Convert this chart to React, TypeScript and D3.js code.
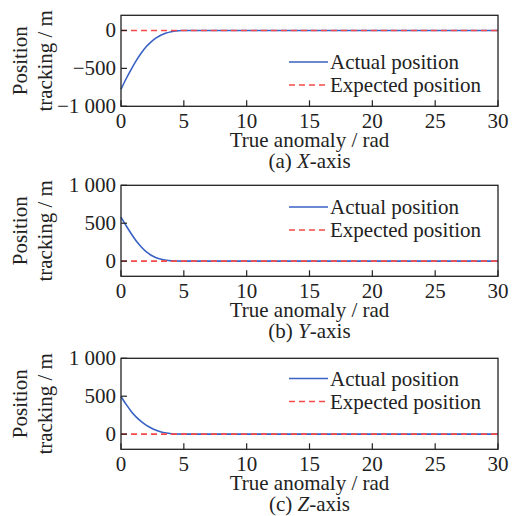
import React from "react";
import * as d3 from "d3";

// True anomaly sample points (rad) and tracked position per axis (m)
const anomalyX = [0, 0.4, 0.8, 1.2, 1.6, 2.0, 2.4, 2.8, 3.2, 3.6, 4.0, 4.4, 4.8, 5.2, 30];
const actualX = [-775, -640, -515, -400, -300, -215, -150, -98, -60, -33, -16, -6, -1, 0, 0];

const anomalyY = [0, 0.4, 0.8, 1.2, 1.6, 2.0, 2.4, 2.8, 3.2, 3.6, 4.0, 4.4, 4.8, 30];
const actualY = [580, 470, 365, 270, 190, 125, 78, 45, 24, 11, 4, 1, 0, 0];

const anomalyZ = [0, 0.4, 0.8, 1.2, 1.6, 2.0, 2.4, 2.8, 3.2, 3.6, 4.0, 4.4, 4.8, 30];
const actualZ = [495, 395, 303, 228, 168, 118, 80, 50, 27, 14, 6, 2, 0, 0];

// Expected position is the origin for the whole span
const expectedAnomaly = [0, 30];
const expectedValue = [0, 0];

const xTicks = [0, 5, 10, 15, 20, 25, 30];
const yTicksX = [-1000, -500, 0];
const yTicksYZ = [0, 500, 1000];

const legendLabels = ["Actual position", "Expected position"];
const xTitle = "True anomaly / rad";
const yTitle = ["Position", "tracking / m"];

const BLUE = "#3a62c4";
const RED = "#f44a4a";
const FONT = "'Liberation Serif', 'Times New Roman', serif";
const FS = 21;

const fmt = (v: number) => {
  const a = Math.abs(v);
  const s = a >= 1000 ? `${Math.floor(a / 1000)} ${String(a % 1000).padStart(3, "0")}` : String(a);
  return v < 0 ? "\u2212" + s : s;
};

type PanelProps = {
  top: number;
  t: number[];
  v: number[];
  domain: [number, number];
  yTicks: number[];
  legendTop: number;
  letter: string;
  axisName: string;
};

const LEFT = 121;
const RIGHT = 498;
const H = 91;

function Panel({ top, t, v, domain, yTicks, legendTop, letter, axisName }: PanelProps) {
  const x = d3.scaleLinear().domain([0, 30]).range([LEFT, RIGHT]);
  const y = d3.scaleLinear().domain(domain).range([top + H, top]);
  const line = d3
    .line<[number, number]>()
    .x((d) => x(d[0]))
    .y((d) => y(d[1]))
    .curve(d3.curveMonotoneX);
  const actual = line(t.map((ti, i) => [ti, v[i]] as [number, number])) || "";
  const expected = line(expectedAnomaly.map((ti, i) => [ti, expectedValue[i]] as [number, number])) || "";
  const bottom = top + H;
  const cx = (LEFT + RIGHT) / 2;
  const cy = top + H / 2;
  return (
    <g>
      <path d={actual} fill="none" stroke={BLUE} strokeWidth={1.6} />
      <path d={expected} fill="none" stroke={RED} strokeWidth={1.6} strokeDasharray="6 4" />
      <rect x={LEFT} y={top} width={RIGHT - LEFT} height={H} fill="none" stroke="#222" strokeWidth={1.3} />
      {xTicks.map((tv) => (
        <g key={"x" + tv}>
          <line x1={x(tv)} x2={x(tv)} y1={bottom} y2={bottom - 6} stroke="#222" strokeWidth={1.2} />
          <text x={x(tv)} y={bottom + 22} textAnchor="middle" fontSize={FS} fontFamily={FONT} fill="#222">
            {tv}
          </text>
        </g>
      ))}
      {yTicks.map((yv) => (
        <g key={"y" + yv}>
          <line x1={LEFT} x2={LEFT + 6} y1={y(yv)} y2={y(yv)} stroke="#222" strokeWidth={1.2} />
          <text x={LEFT - 5} y={y(yv) + 7} textAnchor="end" fontSize={FS} fontFamily={FONT} fill="#222">
            {fmt(yv)}
          </text>
        </g>
      ))}
      <text x={cx} y={bottom + 41} textAnchor="middle" fontSize={FS} fontFamily={FONT} fill="#222">
        {xTitle}
      </text>
      <text x={cx} y={bottom + 62} textAnchor="middle" fontSize={FS} fontFamily={FONT} fill="#222">
        {`(${letter}) `}
        <tspan fontStyle="italic">{axisName}</tspan>
        {"-axis"}
      </text>
      <text transform={`translate(27,${cy}) rotate(-90)`} textAnchor="middle" fontSize={FS} fontFamily={FONT} fill="#222">
        {yTitle[0]}
      </text>
      <text transform={`translate(52,${cy}) rotate(-90)`} textAnchor="middle" fontSize={FS} fontFamily={FONT} fill="#222">
        {yTitle[1]}
      </text>
      {legendLabels.map((lab, i) => {
        const ly = legendTop + i * 23;
        return (
          <g key={lab}>
            <line
              x1={289}
              x2={328}
              y1={ly}
              y2={ly}
              stroke={i === 0 ? BLUE : RED}
              strokeWidth={1.6}
              strokeDasharray={i === 0 ? undefined : "6 4"}
            />
            <text x={330} y={ly + 7} fontSize={FS} fontFamily={FONT} fill="#222">
              {lab}
            </text>
          </g>
        );
      })}
    </g>
  );
}

export default function App() {
  return (
    <svg width={512} height={516} style={{ position: "absolute", left: 0, top: 0, background: "#fff" }}>
      <rect width={512} height={516} fill="#fff" />
      <Panel top={15.3} t={anomalyX} v={actualX} domain={[-1000, 200]} yTicks={yTicksX} legendTop={62} letter="a" axisName="X" />
      <Panel top={185.3} t={anomalyY} v={actualY} domain={[-200, 1000]} yTicks={yTicksYZ} legendTop={207} letter="b" axisName="Y" />
      <Panel top={358.3} t={anomalyZ} v={actualZ} domain={[-200, 1000]} yTicks={yTicksYZ} legendTop={378.5} letter="c" axisName="Z" />
    </svg>
  );
}
